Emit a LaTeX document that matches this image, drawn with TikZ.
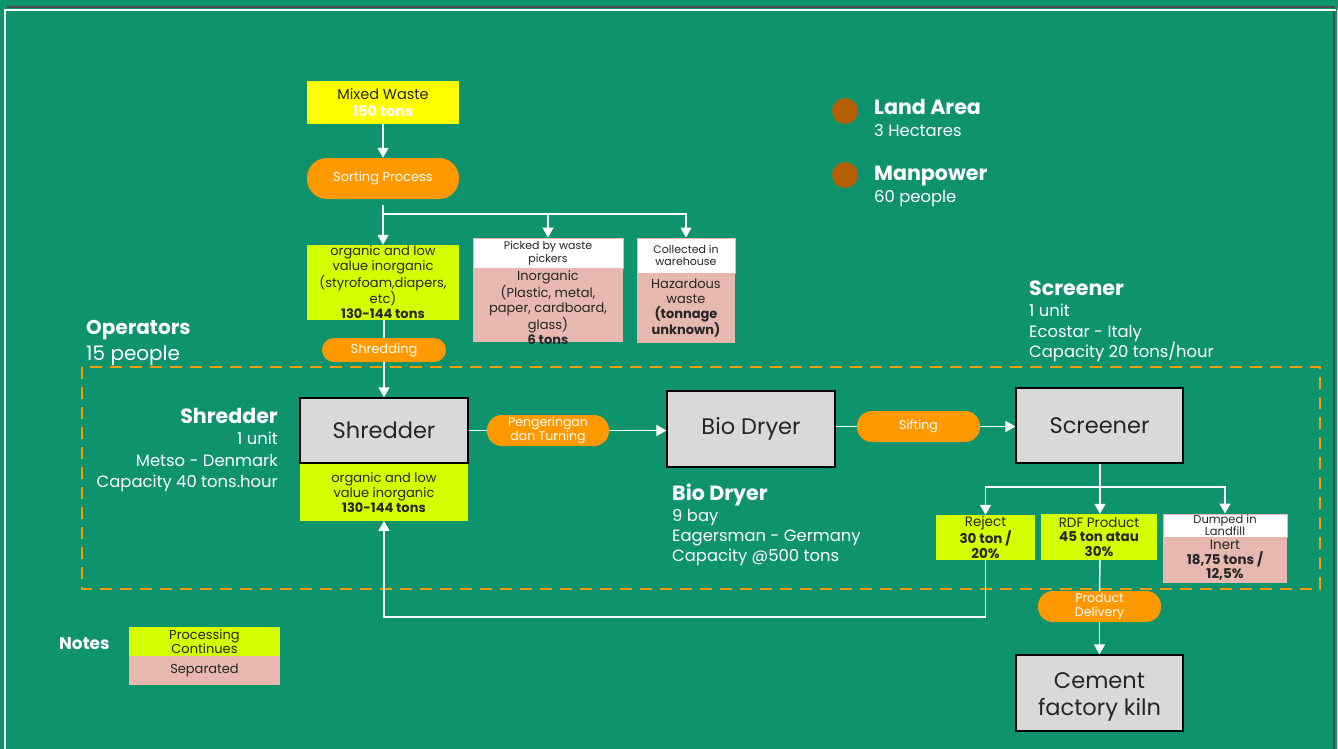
\documentclass[tikz,border=0pt]{standalone}
\usepackage{fontspec}
\setmainfont{Poppins}
\usetikzlibrary{arrows.meta,calc}
\definecolor{bg}{HTML}{0F936C}
\definecolor{ylw}{HTML}{FFFF00}
\definecolor{lime}{HTML}{D4FF00}
\definecolor{org}{HTML}{FF9900}
\definecolor{pnk}{HTML}{E6B8AF}
\definecolor{gry}{HTML}{D9D9D9}
\definecolor{txt}{HTML}{262626}
\definecolor{brn}{HTML}{B45F06}
\definecolor{frm}{HTML}{4A4A4A}
\newcommand{\fs}[2]{\fontsize{#1}{#2}\selectfont}
\tikzset{
  bx/.style={rectangle,inner sep=0pt,text=txt,align=center},
  pill/.style={rectangle,rounded corners=14pt,fill=org,text=white,inner sep=0pt,align=center},
  gbox/.style={rectangle,fill=gry,draw=black,line width=1.3pt,text=txt,inner sep=0pt,align=center},
  ln/.style={draw=white,line width=1.5pt},
  arr/.style={draw=white,line width=1.5pt,-{Triangle[width=11pt,length=10pt]}},
  info/.style={text=white,inner sep=0pt,align=left}
}
\begin{document}
\begin{tikzpicture}[x=1pt,y=-1pt]
\useasboundingbox (0,0) rectangle (1338,749);
\fill[bg] (0,0) rectangle (1338,749);
% frame
\draw[frm,line width=1.5pt] (7,7) -- (1334,7) -- (1334,749);
\draw[white,line width=1.5pt] (5,749) -- (5,10) -- (1336,10);
\draw[white!80!blue,line width=1pt] (1337,10) -- (1337,749);
% dashed region
\draw[org,line width=2.5pt,dash pattern=on 12pt off 8pt] (82,367) rectangle (1320,589);

% top nodes
\node[bx,fill=ylw,minimum width=152pt,minimum height=43pt,font=\fs{14.5}{17}] (mixed) at (383,102.5)
  {Mixed Waste\\\textcolor{white}{\bfseries 150 tons}};
\node[pill,minimum width=152pt,minimum height=41pt,rounded corners=20pt,font=\fs{13}{15}] (sort) at (383,178.5) {Sorting Process};
\node[bx,fill=lime,minimum width=152pt,minimum height=75pt,font=\fs{13}{15}] (orgn) at (383,282.5)
  {organic and low\\value inorganic\\(styrofoam,diapers,\\etc)\\\bfseries 130-144 tons};
\node[bx,fill=white,draw=pnk,line width=1pt,minimum width=150pt,minimum height=30pt,font=\fs{11}{13}] (picktop) at (548,253)
  {Picked by waste\\pickers};
\node[bx,fill=pnk,minimum width=150pt,minimum height=74pt,anchor=north,font=\fs{13}{15.5}] (pickbot) at (548,268) {};
\node[bx,font=\fs{13}{15.5}] (picktxt) at ([yshift=-2.5pt]pickbot.center)
  {Inorganic\\(Plastic, metal,\\paper, cardboard,\\glass)\\\bfseries 6 tons};
\node[bx,fill=white,draw=pnk,line width=1pt,minimum width=98pt,minimum height=35pt,font=\fs{11}{12}] (colltop) at (686,255.5)
  {Collected in\\warehouse};
\node[bx,fill=pnk,minimum width=98pt,minimum height=70pt,anchor=north,font=\fs{13}{15}] (collbot) at (686,273)
  {Hazardous\\waste\\\bfseries (tonnage\\\bfseries unknown)};
\node[pill,minimum width=124pt,minimum height=24pt,rounded corners=12pt,font=\fs{13}{15}] (shredp) at (384,350) {Shredding};

% main row
\node[gbox,minimum width=168pt,minimum height=65pt,font=\fs{22.5}{26}] (shred) at (384,430.5) {Shredder};
\node[bx,fill=lime,minimum width=168pt,minimum height=57pt,anchor=north,font=\fs{13}{15}] (lime2) at (384,463.5)
  {organic and low\\value inorganic\\\bfseries 130-144 tons};
\node[pill,minimum width=122pt,minimum height=31pt,rounded corners=15pt,font=\fs{12.5}{14}] (peng) at (548,430.5) {Pengeringan\\dan Turning};
\node[gbox,minimum width=168pt,minimum height=76pt,font=\fs{22.5}{26}] (bio) at (751,429) {Bio Dryer};
\node[pill,minimum width=123pt,minimum height=31pt,rounded corners=15pt,font=\fs{12.5}{14}] (sift) at (918.5,426.5) {Sifting};
\node[gbox,minimum width=167pt,minimum height=75pt,font=\fs{22.5}{26}] (scr) at (1099.5,425.5) {Screener};

% outputs
\node[bx,fill=lime,minimum width=99pt,minimum height=45pt,font=\fs{13.5}{14.5}] (rej) at (985.5,537.5)
  {Reject\\\bfseries 30 ton /\\\bfseries 20\%};
\node[bx,fill=lime,minimum width=116pt,minimum height=46pt,font=\fs{13.5}{14.5}] (rdf) at (1099,537)
  {RDF Product\\\bfseries 45 ton atau\\\bfseries 30\%};
\node[bx,fill=white,draw=pnk,line width=1pt,minimum width=124pt,minimum height=23pt,font=\fs{11.5}{12}] (dumptop) at (1225,525.5)
  {Dumped in\\Landfill};
\node[bx,fill=pnk,minimum width=124pt,minimum height=46pt,anchor=north,font=\fs{13.5}{14.5}] (dumpbot) at (1225,537)
  {Inert\\\bfseries 18,75 tons /\\\bfseries 12,5\%};
\node[pill,minimum width=123pt,minimum height=31pt,rounded corners=15pt,font=\fs{12.5}{13.5}] (deliv) at (1099.5,606.5) {Product\\Delivery};
\node[gbox,minimum width=167pt,minimum height=76pt] (cem) at (1099.5,693) {};
\node[bx,font=\fs{22.5}{27}] (cemtxt) at ([yshift=-4pt]cem.center) {Cement\\factory kiln};

% connectors
\coordinate (j1) at (383,214);
\coordinate (j2) at (1100,487);
\coordinate (c1) at (384,617);
\draw[arr] (mixed.south) -- (sort.north);
\draw[ln] (383,205) -- (j1);
\draw[arr] (j1) -- (orgn.north);
\draw[arr] (j1) -| (picktop.north);
\draw[arr] (j1) -| (colltop.north);
\draw[ln] (orgn.south -| shredp.north) -- (shredp.north);
\draw[arr] (shredp.south) -- (shred.north);
\draw[ln] (shred.east) -- (peng.west);
\draw[arr] (peng.east) -- (peng.east -| bio.west);
\draw[ln] (sift.west -| bio.east) -- (sift.west);
\draw[arr] (sift.east) -- (sift.east -| scr.west);
\draw[ln] (scr.south -| j2) -- (j2);
\draw[arr] (j2) -- (rdf.north -| j2);
\draw[arr] (j2) -| (rej.north);
\draw[arr] (j2) -| (dumptop.north);
\draw[arr] (rej.south) |- (c1) -- (lime2.south);
\draw[ln] (rdf.south -| j2) -- (deliv.north);
\draw[arr] (deliv.south) -- (cem.north);

% info texts
\node[info,anchor=north west,font=\fs{20}{26}] (ops) at (86,320) {\bfseries Operators\\15 people};
\node[info,anchor=north east,align=right,font=\fs{16.4}{21.5}] (shinfo) at (278,408)
  {{\fs{20.6}{21.5}\bfseries Shredder}\\1 unit\\Metso - Denmark\\Capacity 40 tons.hour};
\node[info,anchor=north west,font=\fs{16.4}{20.3}] (bioinfo) at (672,484)
  {{\fs{20.6}{20.3}\bfseries Bio Dryer}\\9 bay\\Eagersman - Germany\\Capacity @500 tons};
\node[info,anchor=north west,font=\fs{16.4}{20.7}] (scinfo) at (1029,281)
  {{\fs{20.6}{20.7}\bfseries Screener}\\1 unit\\Ecostar - Italy\\Capacity 20 tons/hour};
\fill[brn] (845,111) circle (13pt);
\fill[brn] (845,175) circle (13pt);
\node[info,anchor=north west,font=\fs{16.4}{22}] (land) at (874,99)
  {{\fs{20.6}{22}\bfseries Land Area}\\3 Hectares};
\node[info,anchor=north west,font=\fs{16.4}{22}] (man) at (874,166)
  {{\fs{20.6}{22}\bfseries Manpower}\\60 people};

% notes
\node[info,anchor=west,font=\fs{17}{18}\bfseries] (notes) at (59,644) {Notes};
\node[bx,fill=lime,minimum width=151pt,minimum height=29pt,font=\fs{13}{14}] (nproc) at (204.5,641.5) {Processing\\Continues};
\node[bx,fill=pnk,minimum width=151pt,minimum height=29pt,anchor=north,font=\fs{13}{14}] (nsep) at (204.5,656) {Separated};
\end{tikzpicture}
\end{document}
